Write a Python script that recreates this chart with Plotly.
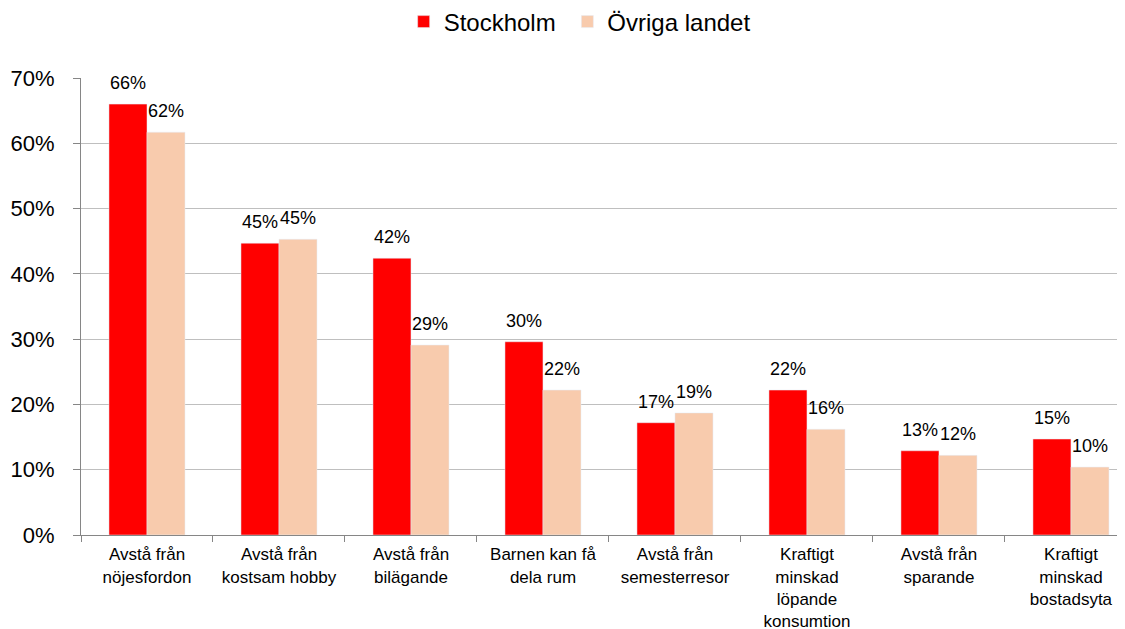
import plotly.graph_objects as go

categories = ["Avstå från<br>nöjesfordon", "Avstå från<br>kostsam hobby", "Avstå från<br>bilägande",
              "Barnen kan få<br>dela rum", "Avstå från<br>semesterresor",
              "Kraftigt<br>minskad<br>löpande<br>konsumtion", "Avstå från<br>sparande",
              "Kraftigt<br>minskad<br>bostadsyta"]
series_names = ["Stockholm\u00a0", "Övriga landet"]
stockholm = [0.66, 0.447, 0.424, 0.296, 0.172, 0.222, 0.129, 0.147]
ovriga = [0.617, 0.453, 0.291, 0.222, 0.187, 0.162, 0.122, 0.104]

FONT = "Liberation Sans, Arial, sans-serif"

fig = go.Figure()
fig.add_trace(go.Bar(name=series_names[0], x=categories, y=stockholm, marker_color="#FF0000"))
fig.add_trace(go.Bar(name=series_names[1], x=categories, y=ovriga, marker_color="#F8CBAD"))

# data labels above bars
for series, shift in ((stockholm, -19), (ovriga, 19)):
    for cat, val in zip(categories, series):
        fig.add_annotation(x=cat, y=val, text=f"{round(val * 100):.0f}%", showarrow=False,
                           xanchor="center", yanchor="bottom", xshift=shift, yshift=9,
                           font=dict(size=18, color="black", family=FONT))

fig.update_layout(
    width=1125, height=629,
    margin=dict(l=73, r=0, t=70, b=102, autoexpand=False),
    plot_bgcolor="white", paper_bgcolor="white",
    barmode="group", bargap=0.424, bargroupgap=0,
    font=dict(family=FONT, color="black"),
    legend=dict(orientation="h", x=0.474, xanchor="center", y=1.1225, yanchor="middle",
                font=dict(size=24, family=FONT), itemwidth=30),
    xaxis=dict(range=[-0.5, 7.47], showline=True, linecolor="#868686", linewidth=1,
               ticks="outside", tickson="boundaries", ticklen=6, tickcolor="#868686",
               tickfont=dict(size=17, family=FONT), ticklabelstandoff=4,
               showgrid=False, automargin=False),
    yaxis=dict(range=[0, 0.7], dtick=0.1, tickformat=".0%", showline=True, linecolor="#868686",
               linewidth=1, ticks="outside", ticklen=7, tickcolor="#868686",
               gridcolor="#BFBFBF", gridwidth=1, tickfont=dict(size=22, family=FONT),
               ticklabelstandoff=14, zeroline=False, automargin=False),
)
fig.write_html("out.html")
